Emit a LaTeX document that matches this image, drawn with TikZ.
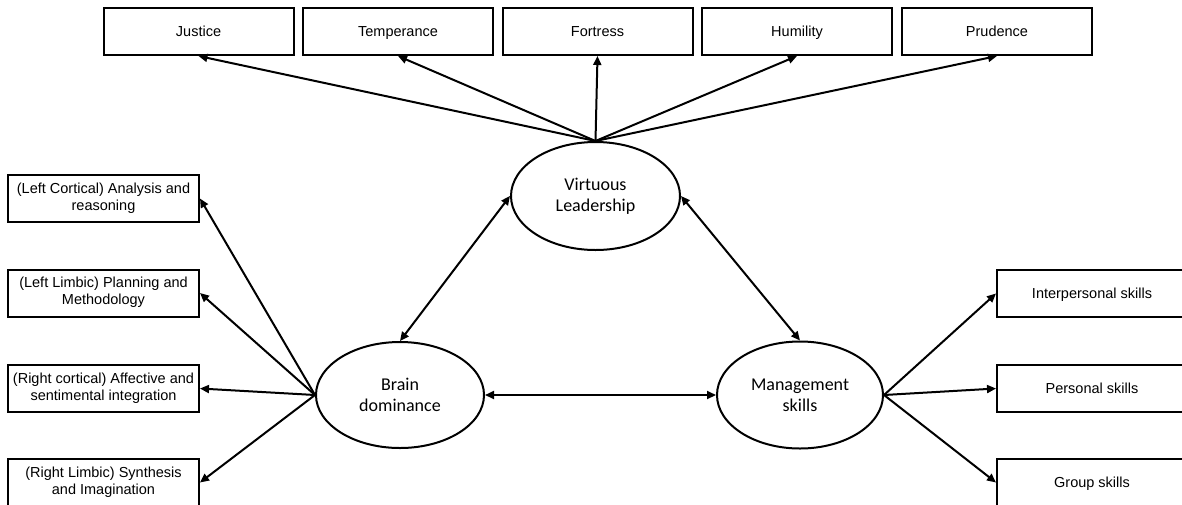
\documentclass[tikz,border=0pt]{standalone}
\usepackage{fontspec}
\setmainfont{Liberation Sans}
\newfontfamily\ovalfont{Carlito}
\usetikzlibrary{arrows.meta,positioning,shapes.geometric}
\newcommand{\boxstrut}{\rule[-4pt]{0pt}{18pt}}
\tikzset{
  >={Triangle[length=9pt,width=8pt]},
  box/.style  ={draw,line width=2pt,minimum width=190pt,minimum height=47pt,
                inner sep=1pt,align=center,font=\fontsize{14.5}{17}\selectfont,
                execute at begin node=\boxstrut},
  oval/.style ={draw,ellipse,line width=2pt,inner sep=0pt,align=center,
                font=\ovalfont\fontsize{18}{21}\selectfont},
  flow/.style ={->,line width=2pt},
  both/.style ={<->,line width=2pt},
}

\begin{document}
\begin{tikzpicture}[x=1pt,y=-1pt]
\clip (0,0) rectangle (1182,504);
%======================= CENTRE: constructs ======================
\node[oval,minimum width=169pt,minimum height=108pt] (vl) at (595.5,196) {Virtuous\\Leadership};
\node[oval,minimum width=168pt,minimum height=106pt] (bd) at (400,395) {Brain\\dominance};
\node[oval,minimum width=166pt,minimum height=107pt] (ms) at (800,395) {Management\\skills};
%======================= TOP: virtues ============================
\node[box] (jus) at (198.5,31.5) {Justice};
\node[box] (tem) at (398,31.5) {Temperance};
\node[box] (for) at (597.5,31.5) {Fortress};
\node[box] (hum) at (797,31.5) {Humility};
\node[box] (pru) at (997,31.5) {Prudence};
\foreach \b in {jus,tem,for,hum,pru} \draw[flow] (vl.north) -- (\b.south);
%======================= LEFT: brain quadrants ===================
\node[box,minimum width=191pt] (lc) at (103.5,198.5) {(Left Cortical) Analysis and\\reasoning};
\node[box,minimum width=191pt] (ll) at (103.5,293) {(Left Limbic) Planning and\\Methodology};
\node[box,minimum width=191pt] (rc) at (103.5,388.5) {(Right cortical) Affective and\\sentimental integration};
\node[box,minimum width=191pt] (rl) at (103.5,482.5) {(Right Limbic) Synthesis\\and Imagination};
\foreach \b in {lc,ll,rc,rl} \draw[flow] (bd.west) -- (\b.east);
%======================= RIGHT: skills ===========================
\node[box] (ip) at (1092,293.5) {Interpersonal skills};
\node[box] (ps) at (1092,388.5) {Personal skills};
\node[box] (gs) at (1092,482.5) {Group skills};
\foreach \b in {ip,ps,gs} \draw[flow] (ms.east) -- (\b.west);
%======================= links between constructs ================
\draw[both] (bd.north) -- (vl.west);
\draw[both] (vl.east) -- (ms.north);
\draw[both] (bd.east) -- (ms.west);
\end{tikzpicture}
\end{document}
